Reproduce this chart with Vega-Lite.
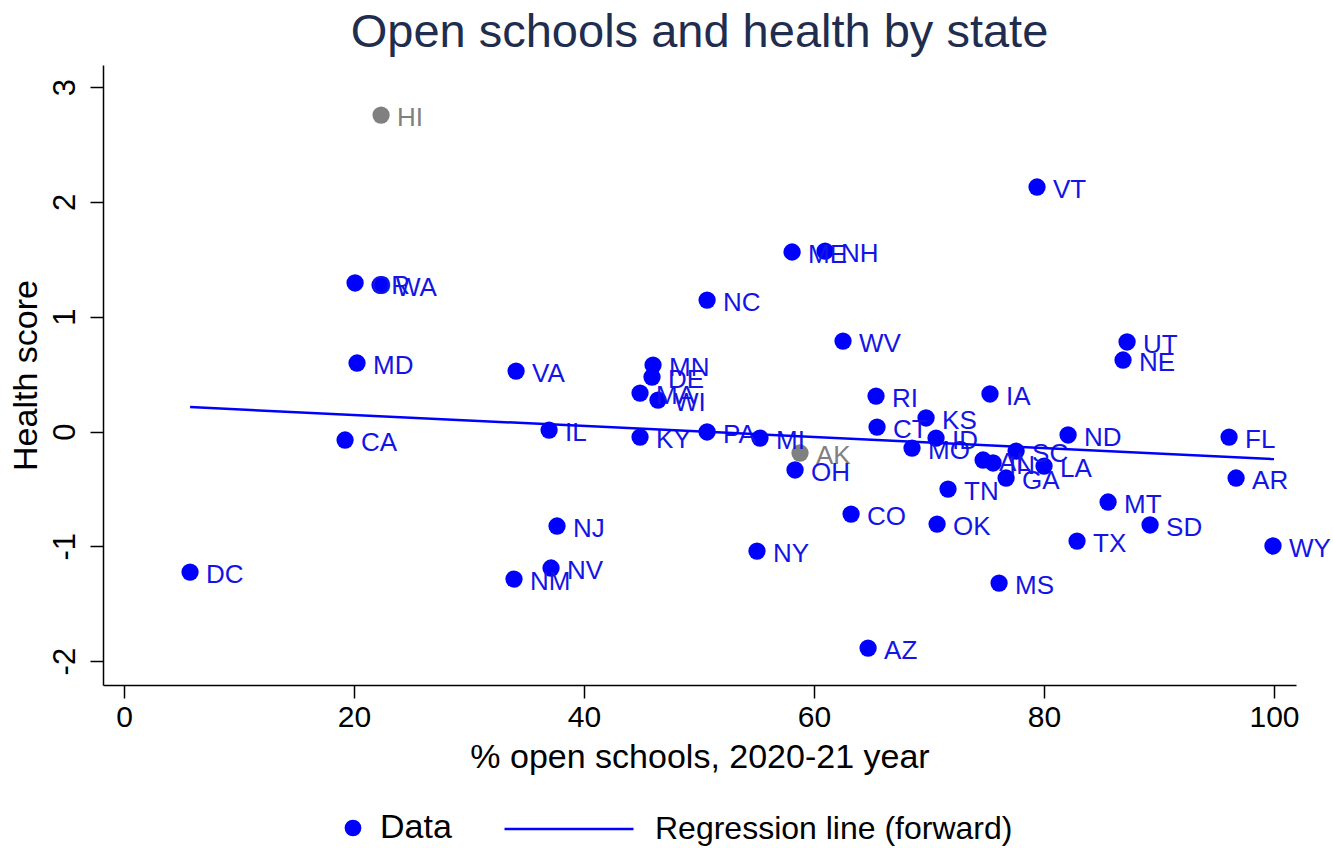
{
  "$schema": "https://vega.github.io/schema/vega-lite/v6.json",
  "width": 1193,
  "height": 620,
  "autosize": {"type": "none"},
  "padding": {"left": 103, "right": 37, "top": 65, "bottom": 163},
  "background": "white",
  "config": {
    "font": "Liberation Sans",
    "view": {"stroke": null},
    "axis": {"grid": false, "domainColor": "#000", "tickColor": "#000", "labelColor": "#000", "titleColor": "#000", "titleFontWeight": "normal", "domainWidth": 1.5, "tickWidth": 1.5}
  },
  "title": {"text": "Open schools and health by state", "fontSize": 47, "fontWeight": "normal", "color": "#1f2d4f", "offset": 8},
  "datasets": {
    "states": [
      {"state": "HI", "x": 22.35, "y": 2.757, "grp": "Excluded"},
      {"state": "AK", "x": 58.78, "y": -0.187, "grp": "Excluded"},
      {"state": "VT", "x": 79.39, "y": 2.130, "grp": "Data"},
      {"state": "ME", "x": 58.09, "y": 1.564, "grp": "Data"},
      {"state": "NH", "x": 60.96, "y": 1.572, "grp": "Data"},
      {"state": "OR", "x": 20.09, "y": 1.294, "grp": "Data"},
      {"state": "WA", "x": 22.26, "y": 1.276, "grp": "Data"},
      {"state": "NC", "x": 50.70, "y": 1.145, "grp": "Data"},
      {"state": "WV", "x": 62.52, "y": 0.788, "grp": "Data"},
      {"state": "UT", "x": 87.22, "y": 0.780, "grp": "Data"},
      {"state": "NE", "x": 86.87, "y": 0.623, "grp": "Data"},
      {"state": "MD", "x": 20.26, "y": 0.597, "grp": "Data"},
      {"state": "VA", "x": 34.09, "y": 0.527, "grp": "Data"},
      {"state": "MN", "x": 46.00, "y": 0.579, "grp": "Data"},
      {"state": "DE", "x": 45.91, "y": 0.475, "grp": "Data"},
      {"state": "MA", "x": 44.87, "y": 0.335, "grp": "Data"},
      {"state": "WI", "x": 46.43, "y": 0.274, "grp": "Data"},
      {"state": "RI", "x": 65.39, "y": 0.309, "grp": "Data"},
      {"state": "IA", "x": 75.30, "y": 0.327, "grp": "Data"},
      {"state": "KS", "x": 69.74, "y": 0.118, "grp": "Data"},
      {"state": "CT", "x": 65.48, "y": 0.039, "grp": "Data"},
      {"state": "ID", "x": 70.61, "y": -0.057, "grp": "Data"},
      {"state": "MO", "x": 68.52, "y": -0.144, "grp": "Data"},
      {"state": "ND", "x": 82.09, "y": -0.030, "grp": "Data"},
      {"state": "SC", "x": 77.57, "y": -0.170, "grp": "Data"},
      {"state": "AL", "x": 74.70, "y": -0.248, "grp": "Data"},
      {"state": "IN", "x": 75.57, "y": -0.274, "grp": "Data"},
      {"state": "LA", "x": 80.00, "y": -0.301, "grp": "Data"},
      {"state": "GA", "x": 76.70, "y": -0.405, "grp": "Data"},
      {"state": "TN", "x": 71.65, "y": -0.501, "grp": "Data"},
      {"state": "IL", "x": 36.96, "y": 0.013, "grp": "Data"},
      {"state": "CA", "x": 19.22, "y": -0.074, "grp": "Data"},
      {"state": "KY", "x": 44.87, "y": -0.048, "grp": "Data"},
      {"state": "PA", "x": 50.70, "y": -0.004, "grp": "Data"},
      {"state": "MI", "x": 55.30, "y": -0.057, "grp": "Data"},
      {"state": "OH", "x": 58.35, "y": -0.335, "grp": "Data"},
      {"state": "FL", "x": 96.09, "y": -0.048, "grp": "Data"},
      {"state": "AR", "x": 96.70, "y": -0.405, "grp": "Data"},
      {"state": "MT", "x": 85.57, "y": -0.614, "grp": "Data"},
      {"state": "SD", "x": 89.22, "y": -0.814, "grp": "Data"},
      {"state": "TX", "x": 82.87, "y": -0.954, "grp": "Data"},
      {"state": "WY", "x": 99.91, "y": -0.997, "grp": "Data"},
      {"state": "MS", "x": 76.09, "y": -1.320, "grp": "Data"},
      {"state": "OK", "x": 70.70, "y": -0.806, "grp": "Data"},
      {"state": "CO", "x": 63.22, "y": -0.719, "grp": "Data"},
      {"state": "NY", "x": 55.04, "y": -1.041, "grp": "Data"},
      {"state": "NJ", "x": 37.65, "y": -0.823, "grp": "Data"},
      {"state": "NV", "x": 37.13, "y": -1.189, "grp": "Data"},
      {"state": "NM", "x": 33.91, "y": -1.285, "grp": "Data"},
      {"state": "DC", "x": 5.74, "y": -1.224, "grp": "Data"},
      {"state": "AZ", "x": 64.70, "y": -1.886, "grp": "Data"}
    ],
    "reg": [
      {"x": 5.74, "y": 0.213, "lbl": "Regression line (forward)"},
      {"x": 100, "y": -0.240, "lbl": "Regression line (forward)"}
    ]
  },
  "encoding": {
    "x": {"field": "x", "type": "quantitative", "scale": {"domain": [-1.83, 101.91], "nice": false, "zero": false},
      "axis": {"values": [0, 20, 40, 60, 80, 100], "title": "% open schools, 2020-21 year", "labelFontSize": 30, "titleFontSize": 34, "tickSize": 13, "labelPadding": 4, "titlePadding": 8, "labelFlush": false}},
    "y": {"field": "y", "type": "quantitative", "scale": {"domain": [-2.208, 3.193], "nice": false, "zero": false},
      "axis": {"values": [-2, -1, 0, 1, 2, 3], "title": "Health score", "labelExpr": "datum.value < 0 ? '-' + abs(datum.value) : '' + datum.value", "labelFontSize": 31, "titleFontSize": 34, "tickSize": 13, "labelAngle": 270, "labelPadding": 9, "titlePadding": 6, "labelFlush": false}}
  },
  "layer": [
    {
      "data": {"name": "states"},
      "transform": [{"filter": "datum.grp === 'Data'"}],
      "mark": {"type": "point", "filled": true, "opacity": 1, "size": 300},
      "encoding": {
        "color": {"field": "grp", "type": "nominal", "scale": {"domain": ["Data"], "range": ["#0000ff"]},
          "legend": {"orient": "none", "legendX": 233, "legendY": 746, "padding": 0, "title": null, "labelFontSize": 34, "labelColor": "#000", "labelOffset": 10, "labelLimit": 0, "symbolType": "circle", "symbolSize": 280, "symbolOpacity": 1}}
      }
    },
    {
      "data": {"name": "states"},
      "transform": [{"filter": "datum.grp === 'Excluded'"}],
      "mark": {"type": "point", "filled": true, "opacity": 1, "color": "#808080", "size": 300}
    },
    {
      "data": {"name": "states"},
      "mark": {"type": "text", "align": "left", "baseline": "middle", "dx": 16, "dy": 3, "fontSize": 26},
      "encoding": {
        "text": {"field": "state"},
        "color": {"condition": {"test": "datum.grp === 'Excluded'", "value": "#808080"}, "value": "#1414e6"}
      }
    },
    {
      "data": {"name": "reg"},
      "mark": {"type": "line", "strokeWidth": 2.5},
      "encoding": {
        "color": {"field": "lbl", "type": "nominal", "scale": {"domain": ["Regression line (forward)"], "range": ["#0000ff"]},
          "legend": {"orient": "none", "legendX": 400, "legendY": 698, "padding": 0, "title": null, "labelFontSize": 32, "labelColor": "#000", "labelOffset": 20, "labelLimit": 0, "symbolType": "stroke", "symbolSize": 16641, "symbolStrokeWidth": 2.5}}
      }
    }
  ],
  "resolve": {"scale": {"color": "independent"}, "legend": {"color": "independent"}}
}
